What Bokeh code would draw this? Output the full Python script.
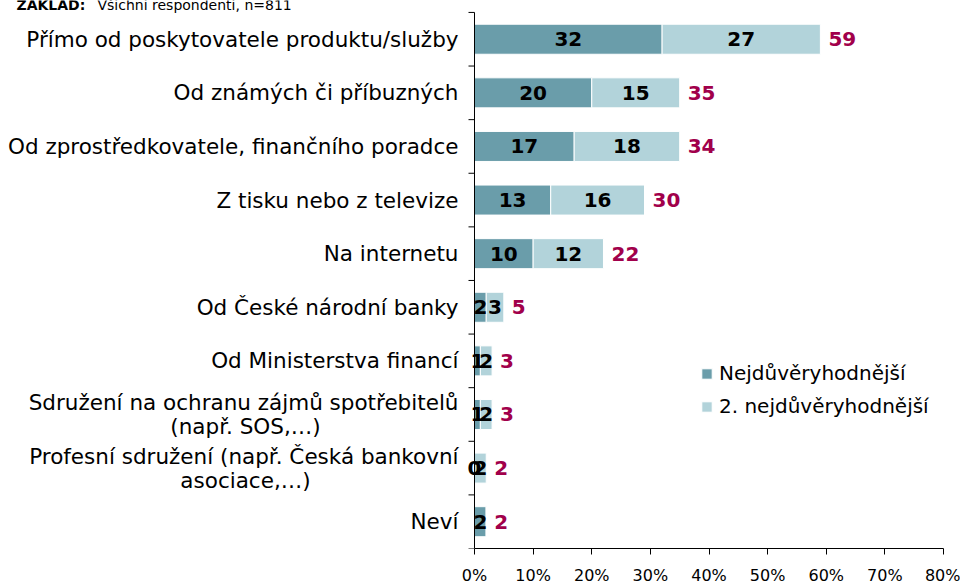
import math
from bokeh.plotting import figure
from bokeh.models import (ColumnDataSource, FixedTicker, LabelSet, Label, Legend, LegendItem,
                          Range1d)
from bokeh.core.properties import value
from bokeh.embed import file_html
from bokeh.resources import INLINE

categories = [
    "Přímo od poskytovatele produktu/služby",
    "Od známých či příbuzných",
    "Od zprostředkovatele, finančního poradce",
    "Z tisku nebo z televize",
    "Na internetu",
    "Od České národní banky",
    "Od Ministerstva financí",
    "Sdružení na ochranu zájmů spotřebitelů|(např. SOS,…)",
    "Profesní sdružení (např. Česká bankovní|asociace,…)",
    "Neví",
]
most_trusted = [32, 20, 17, 13, 10, 2, 1, 1, 0, 2]
second_trusted = [27, 15, 18, 16, 12, 3, 2, 2, 2, 0]
totals = [59, 35, 34, 30, 22, 5, 3, 3, 2, 2]
series_names = ["Nejdůvěryhodnější", "2. nejdůvěryhodnější"]
x_ticks = [0, 10, 20, 30, 40, 50, 60, 70, 80]
x_tick_labels = ["0%", "10%", "20%", "30%", "40%", "50%", "60%", "70%", "80%"]
title_bold = "ZÁKLAD:"
title_rest = "Všichni respondenti, n=811"

FONT = "DejaVu Sans"
DARK = "#6A9DAA"
LIGHT = "#B2D3DA"
CRIMSON = "#A1004B"

n = len(categories)
ypos = [n - 1 - i for i in range(n)]
XMAX = x_ticks[-1]

# layout in pixels
W, H = 960, 587
AX_LEFT, AX_RIGHT, AX_TOP, AX_BOTTOM = 474, 943, 12, 551
px_per_x = (AX_RIGHT - AX_LEFT) / XMAX
px_per_y = (AX_BOTTOM - AX_TOP) / n
x_start = -AX_LEFT / px_per_x
y_end = (n - 0.5) + AX_TOP / px_per_y

p = figure(width=W, height=H, output_backend="svg", toolbar_location=None,
           x_range=Range1d(x_start, XMAX), y_range=Range1d(-0.5, y_end),
           min_border_left=0, min_border_right=W - AX_RIGHT, min_border_top=0,
           min_border_bottom=H - AX_BOTTOM)
p.outline_line_color = None
p.grid.grid_line_color = None
p.background_fill_color = None
p.border_fill_color = "white"

left1 = [0] * n
right1 = most_trusted
left2 = most_trusted
right2 = [a + b for a, b in zip(most_trusted, second_trusted)]

src = ColumnDataSource(dict(
    y=ypos, l1=left1, r1=right1, l2=left2, r2=right2,
    m1=[(a + b) / 2 for a, b in zip(left1, right1)],
    m2=[(a + b) / 2 for a, b in zip(left2, right2)],
    t1=[str(v) for v in most_trusted],
    t2=[str(v) if v > 0 else "" for v in second_trusted],
    tot=[str(v) for v in totals],
))

BH = 0.56
b1 = p.hbar(y="y", left="l1", right="r1", height=BH, source=src,
            fill_color=DARK, line_color="white", line_width=1)
b2 = p.hbar(y="y", left="l2", right="r2", height=BH, source=src,
            fill_color=LIGHT, line_color="white", line_width=1)

lab_kw = dict(text_font=value(FONT), text_font_size="20px", text_font_style="bold",
              text_baseline="middle")
p.add_layout(LabelSet(x="m1", y="y", text="t1", source=src, text_align="center",
                      text_color="black", **lab_kw))
p.add_layout(LabelSet(x="m2", y="y", text="t2", source=src, text_align="center",
                      text_color="black", **lab_kw))
p.add_layout(LabelSet(x="r2", y="y", text="tot", source=src, text_align="left",
                      x_offset=8, text_color=CRIMSON, **lab_kw))

# x axis (limited to the value range)
xa = p.xaxis[0]
xa.bounds = (0, XMAX)
xa.ticker = FixedTicker(ticks=x_ticks)
xa.major_label_overrides = {t: s for t, s in zip(x_ticks, x_tick_labels)}
xa.major_label_text_font = FONT
xa.major_label_text_font_size = "16px"
xa.major_label_text_color = "black"
xa.axis_line_color = "black"
xa.major_tick_line_color = "black"
xa.major_tick_out = 6
xa.major_tick_in = 0
xa.minor_tick_line_color = None
xa.major_label_standoff = 11

# category axis at x = 0: line, boundary ticks, labels
p.yaxis.visible = False
boundaries = [i - 0.5 for i in range(n + 1)]
p.segment(x0=[0], x1=[0], y0=[boundaries[0]], y1=[boundaries[-1]], line_color="black",
          line_width=1)
p.ray(x=[0] * len(boundaries), y=boundaries, length=6, length_units="screen",
      angle=math.pi, line_color="black", line_width=1)

LINE_OFF = 0.223
main_y, main_t = [], []
sub_y, sub_t = [], []
for yy, c in zip(ypos, categories):
    if "|" in c:
        a, b = c.split("|")
        main_y.append(yy + LINE_OFF)
        main_t.append(a)
        sub_y.append(yy - LINE_OFF)
        sub_t.append(b)
    else:
        main_y.append(yy)
        main_t.append(c)
CAT_FS = "21.5px"
p.text(x=[0] * len(main_y), y=main_y, text=main_t, x_offset=-16, text_align="right",
       text_baseline="middle", text_font=value(FONT), text_font_size=CAT_FS,
       text_color="black")
p.text(x=[0] * len(sub_y), y=sub_y, text=sub_t, x_offset=-229, text_align="center",
       text_baseline="middle", text_font=value(FONT), text_font_size=CAT_FS,
       text_color="black")

# title (top-left, partly cut at the top edge as in the source)
title_y = AX_BOTTOM - 7
p.add_layout(Label(x=16, y=title_y, x_units="screen", y_units="screen", text=title_bold,
                   text_align="left", text_baseline="alphabetic", text_font=FONT,
                   text_font_size="14px", text_font_style="bold", text_color="black"))
p.add_layout(Label(x=97, y=title_y, x_units="screen", y_units="screen", text=title_rest,
                   text_align="left", text_baseline="alphabetic", text_font=FONT,
                   text_font_size="14px", text_color="black"))

legend = Legend(items=[LegendItem(label=series_names[0], renderers=[b1]),
                       LegendItem(label=series_names[1], renderers=[b2])],
                location=(700, 130), orientation="vertical")
legend.border_line_color = None
legend.background_fill_alpha = 0
legend.label_text_font = FONT
legend.label_text_font_size = "20px"
legend.label_text_color = "black"
legend.glyph_width = 13
legend.glyph_height = 13
legend.spacing = 9
legend.label_standoff = 6
legend.padding = 0
legend.margin = 0
p.add_layout(legend)

open("out.html", "w").write(file_html(p, INLINE))
